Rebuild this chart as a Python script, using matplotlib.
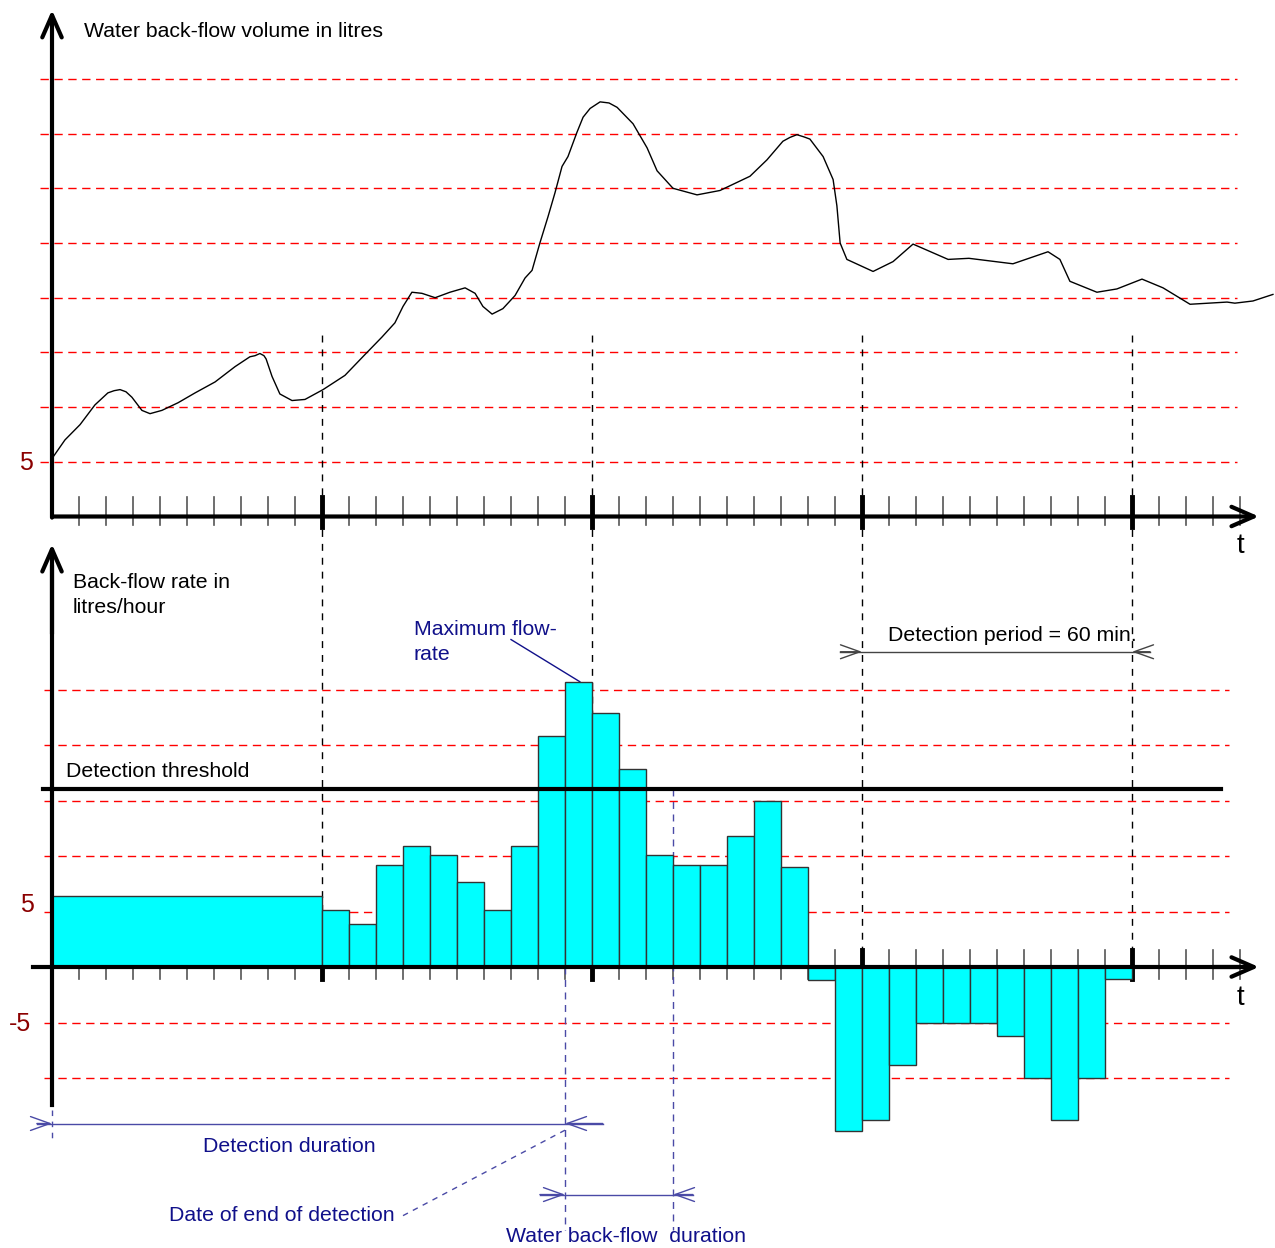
import matplotlib
matplotlib.use('Agg')
import matplotlib.pyplot as plt

plt.rcParams['font.family'] = ['Liberation Sans', 'DejaVu Sans']

# --- data (time in 6-minute ticks, values in litres or litres/hour) ---
vol_t = [0.0, 0.48, 1.04, 1.59, 2.07, 2.3, 2.52, 2.74, 2.96, 3.33, 3.63, 4.07, 4.67, 5.3,
         6.04, 6.78, 7.33, 7.52, 7.7, 7.85, 7.93, 8.15, 8.44, 8.89, 9.37, 10.04, 10.85,
         11.59, 12.22, 12.7, 13.0, 13.33, 13.7, 14.19, 14.74, 15.3, 15.67, 15.96, 16.3,
         16.7, 17.15, 17.52, 17.78, 18.07, 18.37, 18.63, 18.89, 19.11, 19.44, 19.67,
         19.93, 20.3, 20.63, 20.93, 21.52, 22.04, 22.41, 23.0, 23.89, 24.74, 25.85, 26.48,
         27.07, 27.33, 27.59, 27.85, 28.07, 28.56, 28.93, 29.07, 29.19, 29.44, 30.41,
         31.15, 31.89, 33.19, 33.96, 35.59, 36.89, 37.33, 37.7, 38.7, 39.44, 40.37, 41.15,
         42.15, 43.52, 43.81, 44.48, 45.22]
vol_v = [5.3, 7.0, 8.4, 10.2, 11.3, 11.5, 11.6, 11.4, 10.9, 9.7, 9.4, 9.7, 10.4, 11.3,
         12.3, 13.7, 14.6, 14.7, 14.9, 14.7, 14.4, 12.8, 11.2, 10.6, 10.7, 11.6, 12.9,
         14.8, 16.4, 17.7, 19.2, 20.5, 20.4, 20.0, 20.5, 20.9, 20.4, 19.2, 18.5,
         19.0, 20.2, 21.8, 22.5, 25.0, 27.4, 29.6, 32.0, 32.9, 35.1, 36.5,
         37.3, 37.9, 37.8, 37.4, 35.9, 33.7, 31.6, 30.0, 29.4, 29.8, 31.1, 32.6,
         34.3, 34.65, 34.9, 34.7, 34.5, 32.9, 30.8, 28.4, 25.0, 23.5, 22.4,
         23.3, 24.9, 23.5, 23.6, 23.1, 24.2, 23.5, 21.5, 20.5, 20.8, 21.7, 20.9,
         19.4, 19.6, 19.5, 19.7, 20.3]

first_rate = 6.4  # constant rate over the first 10 ticks
rate_start = 10
rates = [5.1, 3.9, 9.2, 10.9, 10.1, 7.7, 5.1, 10.9, 20.8, 25.7, 22.9, 17.8,
         10.1, 9.2, 9.2, 11.8, 15.0, 9.0, -1.2, -14.8, -13.8, -8.8, -5.0, -5.0,
         -5.0, -6.2, -10.0, -13.8, -10.0, -1.1]
threshold = 16.0

vol_grid = [5, 10, 15, 20, 25, 30, 35, 40]
rate_grid = [-10, -5, 5, 10, 15, 20, 25]
major_ticks = [10, 20, 30, 40]
end_detection = 19
end_backflow = 23

navy = '#10108a'
navy_line = '#4a4aa6'
dark_red = '#8b0000'
fs = 15.3

fig = plt.figure(figsize=(12.75, 12.48), dpi=100)
# both axes cover the whole figure, each with its own vertical scale
ax_top = fig.add_axes([0, 0, 1, 1])
ax_bot = fig.add_axes([0, 0, 1, 1])
for ax in (ax_top, ax_bot):
    ax.set_xlim(-52 / 27, (1275 - 52) / 27)
    ax.axis('off')
    ax.patch.set_alpha(0)
ax_top.set_ylim(-(1248 - 516.5) / 10.94, 516.5 / 10.94)
ax_bot.set_ylim(-(1248 - 967) / 11.1, 967 / 11.1)

head = dict(arrowstyle='->,head_length=0.8,head_width=0.35', lw=3, color='black',
            mutation_scale=20, shrinkA=0, shrinkB=0)

# ---------------- top chart: volume ----------------
for g in vol_grid:
    ax_top.plot([-0.44, 43.9], [g, g], color='red', lw=1, ls=(0, (6, 4)))
for t in range(1, 45):
    if t in major_ticks:
        ax_top.plot([t, t], [1.8, -1.0], color='black', lw=3.5)
    else:
        ax_top.plot([t, t], [1.8, -0.8], color='#555555', lw=1.2)
ax_top.plot(vol_t, vol_v, color='black', lw=1)
ax_top.annotate('', xy=(44.7, 0), xytext=(0, 0), arrowprops=head)
ax_top.annotate('', xy=(0, 46.3), xytext=(0, -0.1), arrowprops=head)
ax_top.text(1.19, 44.3, 'Water back-flow volume in litres', fontsize=fs, va='center')
ax_top.text(-0.96, 4.9, '5', fontsize=18, color=dark_red, ha='center', va='center')
ax_top.text(44.0, -2.7, 't', fontsize=20, ha='center', va='center')

# ---------------- bottom chart: back-flow rate ----------------
for g in rate_grid:
    ax_bot.plot([-0.3, 43.6], [g, g], color='red', lw=1, ls=(0, (6, 4)))
for t in major_ticks:
    ax_bot.plot([t, t], [0, 56.9], color='black', lw=1, ls=(0, (5, 5)))
for t in range(1, 45):
    if t in major_ticks:
        ax_bot.plot([t, t], [1.5, -1.1], color='black', lw=3.5)
    else:
        ax_bot.plot([t, t], [1.5, -1.1], color='#555555', lw=1.2)

ax_bot.bar([0], [first_rate], width=rate_start, align='edge', color='#00ffff',
           edgecolor='#333333', lw=1, zorder=3)
ax_bot.bar(list(range(rate_start, rate_start + len(rates))), rates, width=1, align='edge',
           color='#00ffff', edgecolor='#333333', lw=1, zorder=3)

ax_bot.plot([-0.33, 43.3], [threshold, threshold], color='black', lw=3, zorder=4)
ax_bot.text(0.52, threshold + 1.6, 'Detection threshold', fontsize=fs, va='center')

ax_bot.plot([-0.7, 44], [0, 0], color='black', lw=3, zorder=4)
ax_bot.annotate('', xy=(44.7, 0), xytext=(43, 0), arrowprops=head, zorder=4)
ax_bot.plot([0, 0], [-12.4, 36], color='black', lw=3, zorder=4)
ax_bot.annotate('', xy=(0, 38.1), xytext=(0, 30), arrowprops=head, zorder=4)
ax_bot.text(0.78, 35.5, 'Back-flow rate in\nlitres/hour', fontsize=fs, va='top',
            linespacing=1.4)
ax_bot.text(-0.93, 5.6, '5', fontsize=18, color=dark_red, ha='center', va='center')
ax_bot.text(-1.19, -5.1, '-5', fontsize=18, color=dark_red, ha='center', va='center')
ax_bot.text(44.0, -2.8, 't', fontsize=20, ha='center', va='center')

# maximum flow-rate callout
ax_bot.text(13.4, 31.3, 'Maximum flow-\nrate', fontsize=fs, color=navy, va='top',
            linespacing=1.4)
ax_bot.plot([17.0, 19.55], [29.5, 25.7], color=navy, lw=1)

# detection period dimension
dim_grey = dict(arrowstyle='->,head_length=0.7,head_width=0.25', lw=1, color='#444444',
                mutation_scale=20, shrinkA=0, shrinkB=0)
ax_bot.plot([29.2, 40.67], [28.4, 28.4], color='#444444', lw=1)
ax_bot.annotate('', xy=(30, 28.4), xytext=(29.2, 28.4), arrowprops=dim_grey)
ax_bot.annotate('', xy=(40, 28.4), xytext=(40.67, 28.4), arrowprops=dim_grey)
ax_bot.text(30.96, 29.9, 'Detection period = 60 min.', fontsize=fs, va='center')

# detection duration dimension
dim_navy = dict(arrowstyle='->,head_length=0.7,head_width=0.25', lw=1, color=navy_line,
                mutation_scale=20, shrinkA=0, shrinkB=0)
ax_bot.plot([-0.56, 20.4], [-14.1, -14.1], color=navy_line, lw=1)
ax_bot.annotate('', xy=(0, -14.1), xytext=(-0.56, -14.1), arrowprops=dim_navy)
ax_bot.annotate('', xy=(end_detection, -14.1), xytext=(20.4, -14.1), arrowprops=dim_navy)
ax_bot.plot([0, 0], [-12.9, -15.6], color=navy_line, lw=1, ls=(0, (4, 4)))
ax_bot.text(8.78, -16.2, 'Detection duration', fontsize=fs, color=navy,
            ha='center', va='center')

# end of detection / back-flow duration
ax_bot.plot([end_detection, end_detection], [0, -23.7], color=navy_line, lw=1,
            ls=(0, (5, 4)))
ax_bot.plot([end_backflow, end_backflow], [threshold, -23.7], color=navy_line, lw=1,
            ls=(0, (5, 4)))
ax_bot.plot([18.07, 23.74], [-20.5, -20.5], color=navy_line, lw=1)
ax_bot.annotate('', xy=(end_detection, -20.5), xytext=(18.07, -20.5), arrowprops=dim_navy)
ax_bot.annotate('', xy=(end_backflow, -20.5), xytext=(23.74, -20.5), arrowprops=dim_navy)
ax_bot.text(21.26, -24.3, 'Water back-flow  duration', fontsize=fs, color=navy,
            ha='center', va='center')

ax_bot.text(12.7, -22.4, 'Date of end of detection', fontsize=fs, color=navy,
            ha='right', va='center')
ax_bot.plot([13.0, end_detection], [-22.4, -14.7], color=navy_line, lw=1, ls=(0, (4, 4)))

fig.savefig('out.png', dpi=100)
